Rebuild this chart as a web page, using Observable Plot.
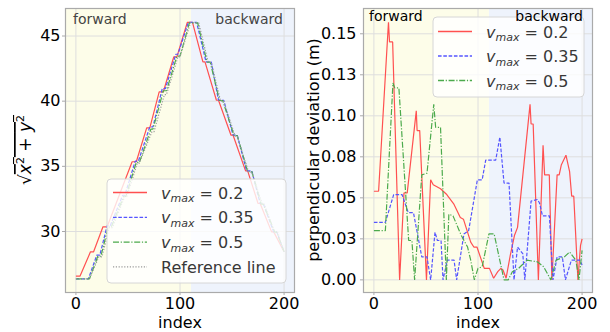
<!DOCTYPE html>
<html><head><meta charset="utf-8">
<script src="https://cdn.jsdelivr.net/npm/d3@7"></script>
<script src="https://cdn.jsdelivr.net/npm/@observablehq/plot@0.6"></script>
<style>
body{margin:0;background:#fff;}
#wrap{display:flex;width:610px;height:332px;}
</style></head><body><div id="wrap"></div>
<script>
// ---------- data ----------
const xTicks = [0, 100, 200];
const leftYTicks = [30, 35, 40, 45];
const rightYTicks = [0, 0.025, 0.05, 0.075, 0.1, 0.125, 0.15];
const rightYTickLabels = ["0.00", "0.03", "0.05", "0.08", "0.10", "0.13", "0.15"];

const phaseNames = ["forward", "backward"];
const phaseStart = [-10, 111];
const phaseEnd = [111, 210];

const seriesNames = ["v_max = 0.2", "v_max = 0.35", "v_max = 0.5", "Reference line"];

// left panel: sqrt(x^2+y^2) vs index
const radRedIdx = [0,4,14,17,26,30,54,58,68,71,80,84,94,97,107,112,122,124,135,137,149,151,163,165,175,177,188,190,200];
const radRedVal = [26.58,26.58,28.44,28.44,30.36,30.36,35.35,35.35,37.95,37.95,40.72,40.72,43.4,43.4,46.04,46.04,43.02,43.02,40.07,40.07,37.39,37.39,34.65,34.65,32.15,32.15,29.97,29.97,28.44];
const radBlueIdx = [0,12,20,23,30,33,45,47,57,60,71,74,83,86,96,98,108,116,125,130,137,142,151,155,164,169,177,180,190,193,200];
const radBlueVal = [26.37,26.37,28.18,28.18,30.45,30.45,32.78,32.78,35.4,35.4,38.03,38.03,40.97,40.97,43.6,43.6,46.04,46.04,43.02,43.02,40.07,40.07,37.39,37.39,34.65,34.65,32.15,32.15,29.97,29.97,28.44];
const radGreenIdx = [0,13,21,24,31,34,46,48,58,61,72,74,84,87,97,100,109,117,126,129,138,141,152,155,165,169,178,180,191,193,200];
const radGreenVal = [26.37,26.37,28.1,28.1,30.35,30.35,32.7,32.7,35.3,35.3,37.85,37.85,40.8,40.8,43.45,43.45,46.0,46.0,43.0,43.0,40.05,40.05,37.35,37.35,34.6,34.6,32.1,32.1,29.95,29.95,28.44];
const radRefIdx = [0,13,22,25,32,35,47,49,59,61,73,75,85,87,98,100,110,118,127,130,139,142,153,155,166,169,179,181,191,194,200];
const radRefVal = [26.37,26.37,28.05,28.05,30.3,30.3,32.7,32.7,35.25,35.25,37.65,37.65,40.5,40.5,43.4,43.4,46.0,46.0,43.0,43.0,40.0,40.0,37.3,37.3,34.55,34.55,32.1,32.1,29.9,29.9,28.44];

// right panel: perpendicular deviation (m) vs index
const devRedIdx = [0,4.5,14,15,18,24.7,28.9,32,40.7,41.5,44,50.5,54.5,57,64,70,77,83,86,93,96,99,106,111,115,119,122,124,127,131,135,138,150,151,153,158,162.5,164,168.5,171,176,178,180,184.5,188,190,192,196,198.5,200];
const devRedVal = [0.054,0.054,0.157,0.145,0.145,0,0.053,0.053,0.103,0.091,0.091,0,0.061,0.058,0.0555,0.052,0.046,0.038,0.037,0.023,0.02,0.02,0.007,0.007,0.001,0.005,0.007,0.006,0.001,0.015,0.027,0.032,0.107,0.095,0.095,0,0.082,0.064,0.064,0,0.064,0.064,0.07,0.076,0.066,0.051,0.051,0,0.021,0.025];
const devBlueIdx = [0,11,19,27,33,38,46,51,54.5,58.7,61,64.5,66.4,70.5,77,79.5,86.5,91,99.4,104,107.4,117,121,125,129.8,134.6,138,143,145,151,157,159,162,168.6,172,176,181,184,189.7,197.8,200];
const devBlueVal = [0.035,0.035,0.052,0.052,0.041,0.041,0.014,0.014,0,0.029,0.024,0.024,0,0.012,0.012,0,0.028,0.03,0.061,0.061,0.073,0.073,0.087,0.059,0.059,0,0.02,0.016,0,0.048,0.049,0.047,0.039,0.039,0,0.014,0.014,0,0.012,0.012,0.009];
const devGreenIdx = [0,11,18.3,20,24,33.4,36.5,39.1,46,51,57.5,59.3,64,69.6,72,76,84,90,93,96.5,100,104,110.5,115.5,125,129,133,139,147,157,163,170,175,183,188,194,197,200];
const devGreenVal = [0.03,0.03,0.12,0.117,0.117,0.024,0.024,0,0.064,0.065,0.107,0.093,0.093,0,0.04,0.039,0.027,0.02,0.012,0,0.007,0.008,0.028,0.028,0,0,0.005,0.007,0.012,0.011,0.008,0,0.012,0.014,0.017,0.012,0,0.018];

// ---------- styles ----------
const FONT = "DejaVu Sans, sans-serif";
const YEL = "#fdfde9", BLU = "#eef3fc", GRID = "#dedede", FRAME = "#aaaaaa";
const styles = [
  {stroke: "#ff5050", dash: null},
  {stroke: "#5555ff", dash: "3.6,1.7"},
  {stroke: "#4caa4c", dash: "6,1.7,1.2,1.7"},
  {stroke: "#9a9a9a", dash: "1.2,1.6"}
];
const phases = phaseNames.map((n, i) => ({name: n, s: phaseStart[i], e: phaseEnd[i]}));
const pts = (ix, v) => d3.zip(ix, v);

function lineMark(data, st) {
  return Plot.line(data, {x: d => d[0], y: d => d[1], stroke: st.stroke, strokeWidth: 1.2,
    strokeDasharray: st.dash || undefined, strokeLinejoin: "miter", strokeLinecap: "butt"});
}
function baseMarks(yTicks) {
  return [
    Plot.rect([phases[0]], {x1: "s", x2: "e", fill: YEL}),
    Plot.rect([phases[1]], {x1: "s", x2: "e", fill: BLU}),
    Plot.gridX(xTicks, {stroke: GRID, strokeOpacity: 1, strokeWidth: 1}),
    Plot.gridY(yTicks, {stroke: GRID, strokeOpacity: 1, strokeWidth: 1})
  ];
}

// ---------- left panel ----------
const left = Plot.plot({
  width: 305, height: 332, marginLeft: 65, marginRight: 11, marginTop: 8, marginBottom: 40,
  style: {fontFamily: FONT, fontSize: "16px", color: "black", background: "transparent", overflow: "visible"},
  x: {domain: [-10, 210]},
  y: {domain: [25.32, 47.11]},
  marks: [
    ...baseMarks(leftYTicks),
    lineMark(pts(radRedIdx, radRedVal), styles[0]),
    lineMark(pts(radBlueIdx, radBlueVal), styles[1]),
    lineMark(pts(radGreenIdx, radGreenVal), styles[2]),
    lineMark(pts(radRefIdx, radRefVal), styles[3]),
    Plot.frame({stroke: FRAME, strokeWidth: 1.2}),
    Plot.axisX({ticks: xTicks, tickSize: 3, tickPadding: 2, fontSize: 16, label: null, stroke: FRAME, fill: "black"}),
    Plot.axisY({ticks: leftYTicks, tickSize: 3, tickPadding: 2, fontSize: 16, label: null, stroke: FRAME, fill: "black"}),
    Plot.text(["index"], {frameAnchor: "bottom", dy: 30, fontSize: 16, lineAnchor: "middle", fill: "black"})
  ]
});

// ---------- right panel ----------
const right = Plot.plot({
  width: 305, height: 332, marginLeft: 58, marginRight: 18, marginTop: 8, marginBottom: 40,
  style: {fontFamily: FONT, fontSize: "16px", color: "black", background: "transparent", overflow: "visible"},
  x: {domain: [-10, 210]},
  y: {domain: [-0.0077, 0.1654]},
  marks: [
    ...baseMarks(rightYTicks),
    lineMark(pts(devRedIdx, devRedVal), styles[0]),
    lineMark(pts(devBlueIdx, devBlueVal), styles[1]),
    lineMark(pts(devGreenIdx, devGreenVal), styles[2]),
    Plot.frame({stroke: FRAME, strokeWidth: 1.2}),
    Plot.axisX({ticks: xTicks, tickSize: 3, tickPadding: 2, fontSize: 16, label: null, stroke: FRAME, fill: "black"}),
    Plot.axisY({ticks: rightYTicks, tickFormat: (d, i) => rightYTickLabels[i], tickSize: 3, tickPadding: 4, fontSize: 16, label: null, stroke: FRAME, fill: "black"}),
    Plot.text(["index"], {frameAnchor: "bottom", dy: 30, fontSize: 16, lineAnchor: "middle", fill: "black"})
  ]
});

const wrap = document.getElementById("wrap");
wrap.appendChild(left);
wrap.appendChild(right);

// ---------- annotations ----------
function addLabel(t, label) {
  if (label.startsWith("v_max")) {
    t.append("tspan").attr("font-style", "italic").text("v");
    t.append("tspan").attr("font-style", "italic").attr("font-size", 11).attr("dy", 3.5).text("max");
    t.append("tspan").attr("dy", -3.5).text(" = " + label.split("= ")[1]);
  } else {
    t.text(label);
  }
}
function legend(svg, box, n) {
  const g = d3.select(svg).append("g").attr("text-anchor", "start");
  g.append("rect").attr("x", box.x).attr("y", box.y).attr("width", box.w).attr("height", box.h)
    .attr("rx", 4).attr("fill", "white").attr("fill-opacity", 0.8).attr("stroke", "#d6d6d6").attr("stroke-width", 1);
  for (let i = 0; i < n; i++) {
    const cy = box.row0 + i * box.dy;
    g.append("line").attr("x1", box.s1).attr("x2", box.s2).attr("y1", cy).attr("y2", cy)
      .attr("stroke", styles[i].stroke).attr("stroke-width", 1.3)
      .attr("stroke-dasharray", styles[i].dash);
    const t = g.append("text").attr("x", box.tx).attr("y", cy + 6).attr("font-size", 16)
      .attr("text-anchor", "start").attr("font-family", FONT).attr("fill", "#383838");
    addLabel(t, seriesNames[i]);
  }
}
legend(left, {x: 107, y: 179, w: 179, h: 104, row0: 192.5, dy: 24.8, s1: 113, s2: 147, tx: 161}, 4);
legend(right, {x: 128, y: 17, w: 151, h: 80, row0: 31.5, dy: 24.5, s1: 133, s2: 167, tx: 181}, 3);

function phaseText(svg, color, xl, xr, yb) {
  const s = d3.select(svg);
  s.append("text").attr("x", xl).attr("y", yb).attr("text-anchor", "start").attr("font-size", 14).attr("font-family", FONT).attr("fill", color).text(phaseNames[0]);
  s.append("text").attr("x", xr).attr("y", yb).attr("text-anchor", "end").attr("font-size", 14).attr("font-family", FONT).attr("fill", color).text(phaseNames[1]);
}
phaseText(left, "#444", 73, 283, 24);
phaseText(right, "#000", 64, 278, 21);

// y labels
{
  const t = d3.select(left).append("text").attr("transform", "translate(31,150) rotate(-90)")
    .attr("text-anchor", "middle").attr("font-size", 17).attr("font-family", FONT).attr("fill", "black");
  t.append("tspan").text("\u221A");
  const o = t.append("tspan").style("text-decoration", "overline");
  o.append("tspan").attr("font-style", "italic").text("x");
  o.append("tspan").attr("font-size", 11).attr("dy", -7).text("2");
  o.append("tspan").attr("dy", 7).text(" + ");
  o.append("tspan").attr("font-style", "italic").text("y");
  o.append("tspan").attr("font-size", 11).attr("dy", -7).text("2");
}
d3.select(right).append("text").attr("transform", "translate(14,150) rotate(-90)")
  .attr("text-anchor", "middle").attr("font-size", 16).attr("font-family", FONT).attr("fill", "black")
  .text("perpendicular deviation (m)");
</script></body></html>
